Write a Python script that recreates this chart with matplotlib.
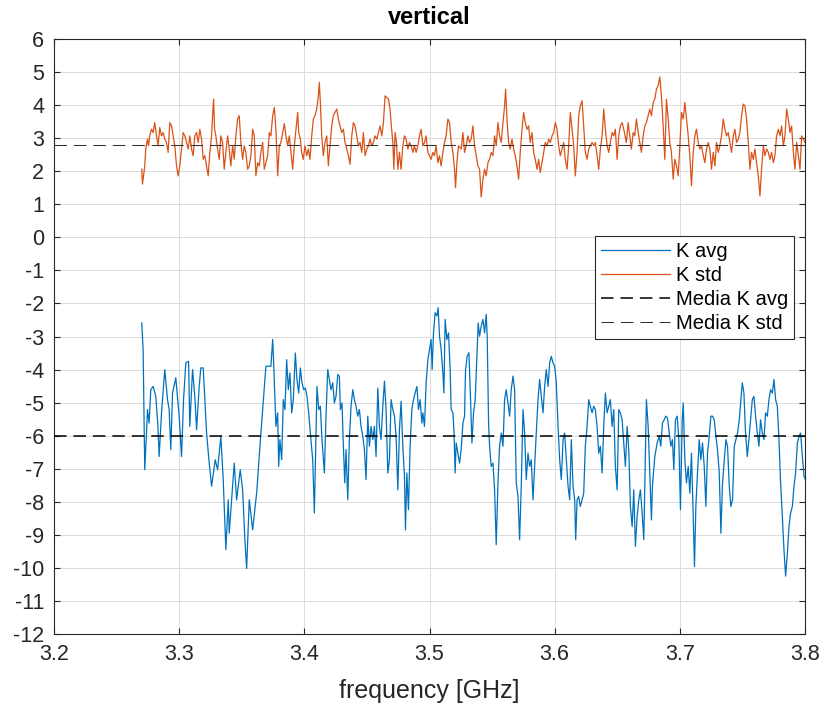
import matplotlib
matplotlib.use("Agg")
import matplotlib.pyplot as plt
import numpy as np

plt.rcParams['font.family'] = ['Liberation Sans', 'DejaVu Sans']
plt.rcParams['lines.scale_dashes'] = False

# ---- K avg (blue) ----
k_avg_freq = [
    3.2701, 3.2712, 3.2717, 3.2720, 3.2725, 3.2739, 3.2747, 3.2760, 3.2773, 3.2792,
    3.2813, 3.2829, 3.2840, 3.2859, 3.2885, 3.2907, 3.2920, 3.2933, 3.2947, 3.2973,
    3.3000, 3.3019, 3.3035, 3.3053, 3.3075, 3.3085, 3.3107, 3.3125, 3.3139, 3.3160,
    3.3173, 3.3192, 3.3219, 3.3240, 3.3259, 3.3288, 3.3307, 3.3333, 3.3352, 3.3373,
    3.3392, 3.3400, 3.3440, 3.3459, 3.3488, 3.3507, 3.3525, 3.3539, 3.3560, 3.3587,
    3.3619, 3.3653, 3.3693, 3.3733, 3.3747, 3.3755, 3.3765, 3.3773, 3.3787, 3.3795,
    3.3805, 3.3819, 3.3832, 3.3845, 3.3859, 3.3872, 3.3885, 3.3899, 3.3912, 3.3928,
    3.3941, 3.3955, 3.3968, 3.3981, 3.3995, 3.4008, 3.4021, 3.4035, 3.4048, 3.4067,
    3.4080, 3.4093, 3.4101, 3.4115, 3.4128, 3.4141, 3.4160, 3.4173, 3.4187, 3.4200,
    3.4213, 3.4227, 3.4240, 3.4253, 3.4267, 3.4280, 3.4288, 3.4301, 3.4312, 3.4323,
    3.4333, 3.4347, 3.4360, 3.4373, 3.4387, 3.4400, 3.4413, 3.4427, 3.4440, 3.4453,
    3.4467, 3.4480, 3.4493, 3.4507, 3.4520, 3.4533, 3.4547, 3.4560, 3.4573, 3.4587,
    3.4600, 3.4613, 3.4627, 3.4640, 3.4653, 3.4667, 3.4680, 3.4693, 3.4707, 3.4720,
    3.4733, 3.4747, 3.4760, 3.4773, 3.4787, 3.4800, 3.4808, 3.4819, 3.4832, 3.4845,
    3.4859, 3.4872, 3.4885, 3.4899, 3.4912, 3.4925, 3.4939, 3.4947, 3.4960, 3.4973,
    3.4987, 3.5000, 3.5013, 3.5021, 3.5032, 3.5045, 3.5059, 3.5069, 3.5080, 3.5093,
    3.5107, 3.5115, 3.5125, 3.5139, 3.5152, 3.5165, 3.5173, 3.5187, 3.5195, 3.5205,
    3.5213, 3.5227, 3.5240, 3.5253, 3.5267, 3.5280, 3.5288, 3.5301, 3.5315, 3.5328,
    3.5339, 3.5352, 3.5365, 3.5379, 3.5389, 3.5400, 3.5413, 3.5427, 3.5440, 3.5453,
    3.5461, 3.5472, 3.5480, 3.5493, 3.5507, 3.5520, 3.5533, 3.5547, 3.5560, 3.5573,
    3.5587, 3.5600, 3.5613, 3.5627, 3.5640, 3.5653, 3.5667, 3.5680, 3.5693, 3.5707,
    3.5720, 3.5733, 3.5747, 3.5760, 3.5773, 3.5787, 3.5800, 3.5813, 3.5827, 3.5840,
    3.5853, 3.5867, 3.5880, 3.5893, 3.5907, 3.5920, 3.5933, 3.5947, 3.5960, 3.5973,
    3.5987, 3.6000, 3.6013, 3.6027, 3.6040, 3.6053, 3.6067, 3.6080, 3.6093, 3.6107,
    3.6120, 3.6133, 3.6147, 3.6160, 3.6168, 3.6179, 3.6192, 3.6205, 3.6219, 3.6232,
    3.6245, 3.6259, 3.6272, 3.6285, 3.6299, 3.6312, 3.6325, 3.6339, 3.6352, 3.6365,
    3.6379, 3.6392, 3.6405, 3.6419, 3.6432, 3.6445, 3.6459, 3.6472, 3.6485, 3.6499,
    3.6512, 3.6525, 3.6539, 3.6552, 3.6565, 3.6579, 3.6592, 3.6605, 3.6619, 3.6632,
    3.6645, 3.6659, 3.6672, 3.6685, 3.6699, 3.6712, 3.6725, 3.6733, 3.6747, 3.6760,
    3.6773, 3.6781, 3.6800, 3.6819, 3.6835, 3.6848, 3.6861, 3.6875, 3.6888, 3.6901,
    3.6915, 3.6928, 3.6941, 3.6952, 3.6965, 3.6979, 3.6992, 3.7005, 3.7019, 3.7027,
    3.7040, 3.7053, 3.7067, 3.7080, 3.7093, 3.7107, 3.7117, 3.7128, 3.7141, 3.7155,
    3.7168, 3.7181, 3.7195, 3.7208, 3.7221, 3.7235, 3.7248, 3.7261, 3.7275, 3.7288,
    3.7301, 3.7315, 3.7328, 3.7341, 3.7355, 3.7368, 3.7381, 3.7395, 3.7408, 3.7421,
    3.7435, 3.7448, 3.7461, 3.7475, 3.7488, 3.7499, 3.7512, 3.7525, 3.7539, 3.7552,
    3.7565, 3.7579, 3.7592, 3.7605, 3.7619, 3.7632, 3.7645, 3.7659, 3.7672, 3.7685,
    3.7699, 3.7712, 3.7725, 3.7739, 3.7752, 3.7765, 3.7779, 3.7792, 3.7805, 3.7819,
    3.7832, 3.7845, 3.7859, 3.7872, 3.7885, 3.7899, 3.7912, 3.7925, 3.7939, 3.7952,
    3.7965, 3.7979, 3.7992, 3.8000,
]
k_avg = [
    -2.59, -3.39, -4.81, -5.41, -7.03, -5.92, -5.21, -5.62, -4.61, -4.51,
    -4.81, -5.62, -6.63, -5.31, -4.00, -4.91, -5.21, -6.42, -4.71, -4.25,
    -5.41, -6.63, -4.91, -3.80, -3.75, -5.72, -4.00, -4.81, -5.82, -4.51,
    -3.95, -3.95, -5.92, -6.83, -7.53, -6.73, -7.03, -6.02, -7.33, -9.45,
    -7.94, -8.95, -6.83, -7.94, -7.03, -7.64, -9.15, -10.02, -7.94, -8.85,
    -7.74, -5.92, -3.90, -3.90, -3.09, -3.80, -4.91, -5.72, -5.31, -6.93,
    -6.12, -6.73, -4.91, -5.21, -3.70, -4.61, -4.10, -5.31, -4.91, -3.50,
    -4.30, -4.71, -3.95, -4.40, -4.61, -4.56, -4.81, -5.31, -5.92, -6.73,
    -8.34, -5.92, -4.51, -5.21, -5.11, -6.12, -7.13, -5.41, -4.00, -4.30,
    -4.61, -4.40, -5.01, -4.81, -4.15, -4.20, -5.21, -5.01, -6.32, -7.43,
    -6.42, -7.94, -6.12, -5.11, -4.61, -4.91, -5.11, -5.41, -5.21, -5.72,
    -6.02, -6.42, -7.33, -5.41, -6.32, -5.72, -6.12, -5.72, -6.63, -4.56,
    -5.72, -6.12, -5.11, -4.35, -5.21, -7.13, -6.73, -4.91, -5.21, -5.41,
    -6.02, -7.64, -5.82, -4.96, -6.32, -7.23, -8.85, -7.13, -8.24, -6.32,
    -5.21, -4.91, -4.71, -4.51, -5.21, -4.91, -5.62, -5.31, -5.72, -4.40,
    -3.70, -3.39, -3.09, -4.00, -2.89, -2.28, -2.38, -2.13, -2.99, -3.39,
    -4.10, -4.71, -2.48, -3.09, -2.89, -4.00, -5.21, -5.31, -5.82, -7.13,
    -6.22, -6.53, -6.83, -6.42, -5.62, -5.41, -4.00, -3.60, -3.49, -4.91,
    -6.22, -5.31, -4.91, -3.60, -2.59, -2.99, -2.69, -2.48, -2.89, -2.33,
    -2.99, -5.62, -6.32, -6.93, -6.83, -7.64, -9.30, -7.43, -6.32, -5.92,
    -6.32, -4.91, -4.61, -5.01, -5.41, -4.61, -4.20, -4.61, -7.43, -7.84,
    -9.15, -7.53, -5.21, -5.92, -7.33, -6.53, -6.93, -6.73, -7.94, -6.93,
    -5.92, -4.91, -4.30, -4.81, -5.31, -4.51, -4.00, -4.51, -3.80, -3.60,
    -3.80, -3.90, -4.40, -5.72, -6.73, -7.33, -6.12, -5.92, -6.73, -7.53,
    -7.94, -6.12, -7.53, -7.94, -9.15, -7.94, -7.84, -8.14, -7.94, -7.74,
    -6.32, -5.72, -4.91, -5.11, -5.31, -5.11, -5.21, -5.72, -6.53, -6.32,
    -7.13, -5.72, -4.71, -5.31, -5.11, -4.91, -5.72, -5.21, -6.93, -7.64,
    -5.21, -5.31, -5.52, -6.22, -6.93, -5.72, -6.42, -8.14, -8.75, -7.64,
    -9.35, -8.44, -7.94, -7.64, -8.34, -9.15, -6.42, -4.91, -5.72, -7.13,
    -8.55, -7.53, -6.63, -6.22, -6.02, -6.32, -5.62, -5.52, -5.41, -5.46,
    -5.92, -6.32, -6.12, -7.03, -5.52, -5.41, -6.12, -8.24, -5.52, -5.01,
    -6.73, -7.43, -6.93, -7.74, -6.53, -8.44, -9.96, -8.14, -7.13, -6.12,
    -6.73, -6.22, -6.93, -8.14, -6.53, -6.02, -5.41, -5.41, -5.52, -6.02,
    -6.42, -7.13, -8.95, -7.43, -6.73, -6.12, -6.32, -7.53, -8.14, -7.94,
    -6.32, -6.12, -5.92, -5.52, -4.91, -4.40, -4.71, -5.92, -6.63, -6.12,
    -5.52, -4.91, -4.81, -5.41, -5.92, -6.32, -5.52, -5.92, -6.12, -5.31,
    -5.41, -4.91, -4.61, -4.71, -4.30, -4.91, -5.11, -6.12, -7.43, -8.44,
    -9.45, -10.25, -9.56, -8.75, -8.34, -8.14, -7.53, -7.13, -6.22, -6.02,
    -5.92, -6.63, -7.23, -7.30,
]

# ---- K std (orange) ----
k_std_freq = [
    3.2701, 3.2707, 3.2715, 3.2725, 3.2733, 3.2747, 3.2755, 3.2765, 3.2779, 3.2792,
    3.2805, 3.2819, 3.2832, 3.2845, 3.2859, 3.2872, 3.2885, 3.2899, 3.2912, 3.2925,
    3.2939, 3.2952, 3.2965, 3.2979, 3.2992, 3.3005, 3.3019, 3.3032, 3.3045, 3.3059,
    3.3072, 3.3085, 3.3099, 3.3112, 3.3125, 3.3139, 3.3152, 3.3165, 3.3179, 3.3192,
    3.3205, 3.3219, 3.3232, 3.3245, 3.3259, 3.3267, 3.3275, 3.3283, 3.3293, 3.3307,
    3.3320, 3.3333, 3.3347, 3.3360, 3.3373, 3.3387, 3.3400, 3.3413, 3.3427, 3.3440,
    3.3453, 3.3467, 3.3480, 3.3493, 3.3507, 3.3520, 3.3533, 3.3547, 3.3560, 3.3573,
    3.3587, 3.3600, 3.3613, 3.3627, 3.3640, 3.3653, 3.3667, 3.3680, 3.3693, 3.3707,
    3.3720, 3.3733, 3.3747, 3.3760, 3.3773, 3.3787, 3.3800, 3.3813, 3.3827, 3.3840,
    3.3853, 3.3867, 3.3880, 3.3893, 3.3907, 3.3920, 3.3933, 3.3947, 3.3955, 3.3968,
    3.3979, 3.3992, 3.4005, 3.4019, 3.4032, 3.4045, 3.4059, 3.4072, 3.4085, 3.4099,
    3.4112, 3.4120, 3.4128, 3.4139, 3.4152, 3.4165, 3.4179, 3.4192, 3.4205, 3.4219,
    3.4232, 3.4245, 3.4259, 3.4272, 3.4285, 3.4299, 3.4312, 3.4325, 3.4339, 3.4352,
    3.4365, 3.4379, 3.4392, 3.4405, 3.4419, 3.4432, 3.4445, 3.4459, 3.4472, 3.4485,
    3.4499, 3.4512, 3.4525, 3.4539, 3.4552, 3.4565, 3.4579, 3.4592, 3.4605, 3.4619,
    3.4632, 3.4645, 3.4659, 3.4672, 3.4685, 3.4693, 3.4707, 3.4715, 3.4725, 3.4736,
    3.4747, 3.4760, 3.4773, 3.4787, 3.4800, 3.4813, 3.4827, 3.4840, 3.4853, 3.4867,
    3.4880, 3.4893, 3.4907, 3.4920, 3.4933, 3.4947, 3.4960, 3.4973, 3.4987, 3.5000,
    3.5013, 3.5027, 3.5040, 3.5053, 3.5067, 3.5080, 3.5093, 3.5107, 3.5120, 3.5133,
    3.5147, 3.5160, 3.5173, 3.5187, 3.5200, 3.5208, 3.5219, 3.5232, 3.5253, 3.5267,
    3.5280, 3.5293, 3.5307, 3.5320, 3.5333, 3.5347, 3.5360, 3.5373, 3.5387, 3.5400,
    3.5413, 3.5427, 3.5440, 3.5453, 3.5467, 3.5480, 3.5493, 3.5507, 3.5520, 3.5533,
    3.5547, 3.5560, 3.5573, 3.5587, 3.5600, 3.5608, 3.5619, 3.5632, 3.5645, 3.5659,
    3.5672, 3.5685, 3.5699, 3.5712, 3.5725, 3.5739, 3.5752, 3.5765, 3.5779, 3.5792,
    3.5805, 3.5819, 3.5832, 3.5845, 3.5859, 3.5872, 3.5885, 3.5899, 3.5912, 3.5925,
    3.5939, 3.5952, 3.5965, 3.5979, 3.5992, 3.6005, 3.6019, 3.6032, 3.6045, 3.6059,
    3.6072, 3.6085, 3.6099, 3.6112, 3.6125, 3.6139, 3.6152, 3.6165, 3.6179, 3.6192,
    3.6205, 3.6219, 3.6232, 3.6245, 3.6259, 3.6272, 3.6285, 3.6299, 3.6312, 3.6325,
    3.6339, 3.6352, 3.6365, 3.6379, 3.6392, 3.6405, 3.6419, 3.6432, 3.6445, 3.6459,
    3.6472, 3.6485, 3.6499, 3.6512, 3.6525, 3.6539, 3.6552, 3.6573, 3.6587, 3.6600,
    3.6613, 3.6627, 3.6640, 3.6653, 3.6667, 3.6680, 3.6693, 3.6707, 3.6720, 3.6733,
    3.6747, 3.6760, 3.6773, 3.6787, 3.6800, 3.6813, 3.6827, 3.6840, 3.6853, 3.6867,
    3.6880, 3.6893, 3.6907, 3.6920, 3.6933, 3.6947, 3.6960, 3.6973, 3.6987, 3.7000,
    3.7013, 3.7027, 3.7040, 3.7053, 3.7067, 3.7080, 3.7093, 3.7107, 3.7120, 3.7133,
    3.7147, 3.7160, 3.7173, 3.7187, 3.7200, 3.7213, 3.7227, 3.7240, 3.7253, 3.7267,
    3.7280, 3.7293, 3.7307, 3.7320, 3.7333, 3.7347, 3.7360, 3.7373, 3.7387, 3.7400,
    3.7413, 3.7427, 3.7440, 3.7453, 3.7467, 3.7480, 3.7493, 3.7507, 3.7520, 3.7533,
    3.7547, 3.7560, 3.7573, 3.7587, 3.7600, 3.7613, 3.7627, 3.7640, 3.7653, 3.7667,
    3.7680, 3.7693, 3.7707, 3.7720, 3.7733, 3.7747, 3.7760, 3.7773, 3.7787, 3.7800,
    3.7813, 3.7827, 3.7840, 3.7853, 3.7867, 3.7880, 3.7893, 3.7907, 3.7920, 3.7933,
    3.7947, 3.7960, 3.7973, 3.7987, 3.8000,
]
k_std = [
    2.06, 1.61, 1.86, 2.16, 2.67, 2.97, 2.77, 3.07, 3.27, 3.17,
    3.47, 3.07, 2.77, 3.32, 3.07, 3.17, 2.97, 2.87, 2.57, 3.47,
    3.37, 3.07, 2.77, 2.16, 1.86, 2.16, 2.67, 3.17, 3.07, 2.87,
    2.67, 3.07, 2.67, 2.47, 3.07, 3.17, 2.87, 3.27, 2.97, 2.36,
    2.47, 2.16, 1.86, 2.57, 3.07, 3.68, 4.18, 3.27, 3.07, 2.67,
    2.36, 3.07, 2.87, 2.06, 2.57, 3.07, 2.67, 2.16, 2.77, 2.36,
    3.07, 3.58, 3.68, 2.87, 2.36, 2.77, 2.57, 2.06, 2.16, 2.47,
    3.27, 3.07, 1.86, 2.26, 2.16, 2.57, 2.87, 2.06, 2.26, 2.47,
    3.17, 3.07, 3.68, 3.93, 3.27, 1.86, 2.77, 2.87, 3.17, 3.44,
    3.07, 2.77, 3.07, 2.57, 2.06, 2.77, 3.27, 3.78, 3.17, 2.97,
    2.57, 2.36, 2.77, 2.47, 2.67, 2.36, 3.07, 3.58, 3.68, 3.88,
    4.28, 4.69, 4.08, 3.07, 2.47, 2.87, 3.07, 2.16, 2.77, 3.37,
    3.68, 3.78, 3.88, 3.58, 3.37, 3.17, 3.27, 2.87, 2.67, 2.47,
    2.21, 3.07, 3.47, 3.37, 3.07, 2.77, 2.87, 2.57, 3.17, 2.47,
    2.67, 2.77, 2.97, 2.77, 2.87, 3.07, 2.97, 3.17, 3.37, 3.07,
    3.47, 4.28, 4.23, 4.18, 3.88, 3.47, 2.87, 2.06, 3.17, 2.87,
    2.06, 2.57, 2.06, 2.77, 3.07, 2.97, 2.67, 2.87, 2.77, 2.57,
    2.77, 2.57, 2.77, 3.07, 3.27, 2.77, 2.87, 3.07, 2.57, 2.47,
    2.36, 2.57, 2.47, 2.77, 2.26, 2.47, 2.16, 2.57, 2.87, 3.07,
    3.58, 3.47, 2.87, 2.57, 2.06, 1.50, 2.26, 2.77, 2.67, 3.17,
    2.57, 2.77, 3.07, 2.87, 2.97, 3.37, 2.77, 2.47, 2.16, 2.06,
    1.22, 1.76, 2.06, 1.86, 2.26, 2.36, 2.57, 2.47, 3.07, 2.77,
    3.47, 3.07, 2.87, 3.47, 3.98, 4.48, 3.58, 2.87, 2.67, 2.97,
    2.67, 2.47, 2.16, 1.76, 2.57, 3.27, 3.78, 3.47, 3.27, 3.37,
    2.87, 3.17, 2.57, 2.36, 2.06, 2.36, 1.96, 2.26, 2.57, 2.87,
    2.77, 2.97, 2.87, 3.07, 3.17, 3.47, 3.27, 2.77, 2.47, 2.67,
    2.87, 2.36, 2.06, 2.77, 3.78, 3.27, 2.77, 1.86, 2.57, 3.68,
    3.98, 4.13, 3.37, 2.57, 2.36, 2.67, 2.77, 2.87, 2.77, 2.87,
    2.47, 2.06, 2.67, 3.07, 3.88, 3.27, 2.77, 2.57, 2.87, 3.17,
    3.07, 3.27, 2.36, 3.07, 3.37, 3.47, 3.27, 2.87, 3.47, 3.07,
    2.67, 3.17, 3.07, 3.58, 3.17, 2.87, 2.57, 3.07, 3.37, 3.47,
    3.68, 3.88, 3.68, 4.08, 4.18, 4.48, 4.59, 4.85, 4.28, 3.37,
    2.36, 4.18, 3.58, 2.87, 2.57, 1.76, 2.36, 2.16, 1.86, 2.77,
    3.78, 3.58, 4.08, 3.58, 3.07, 2.47, 1.56, 2.57, 3.07, 3.27,
    2.87, 2.67, 2.77, 2.47, 2.26, 2.67, 2.87, 2.67, 2.06, 2.57,
    2.16, 2.87, 2.57, 2.77, 3.07, 3.58, 3.27, 3.07, 3.17, 2.87,
    2.57, 3.07, 3.27, 2.87, 2.97, 3.17, 3.68, 4.03, 3.98, 3.58,
    2.87, 2.06, 2.57, 2.36, 2.67, 2.26, 1.86, 1.25, 2.06, 2.77,
    2.47, 2.67, 2.57, 2.36, 2.57, 2.26, 2.47, 3.07, 3.27, 3.07,
    3.37, 2.77, 3.07, 3.88, 3.58, 3.17, 3.37, 2.57, 2.06, 2.87,
    2.47, 2.06, 3.07, 2.97, 2.87,
]

k_avg_mean = -6.0
k_std_mean = 2.8

blue = '#0072BD'
orange = '#D95319'
ink = '#262626'

fig = plt.figure(figsize=(8.27, 7.11), dpi=100)
ax = fig.add_axes([54 / 827, 1 - 634 / 711, (805 - 54) / 827, (634 - 39) / 711])

ax.plot(k_avg_freq, k_avg, color=blue, lw=0.9, label='K avg', zorder=3)
ax.plot(k_std_freq, k_std, color=orange, lw=0.9, label='K std', zorder=3)
l1 = ax.axhline(k_avg_mean, color='black', lw=1.1, label='Media K avg', zorder=4)
l1.set_dashes((9, 5))
l2 = ax.axhline(k_std_mean, color='#333333', lw=0.75, label='Media K std', zorder=4)
l2.set_dashes((9, 5))

ax.set_xlim(3.2, 3.8)
ax.set_ylim(-12, 6)
ax.set_xticks(np.arange(3.2, 3.81, 0.1))
ax.set_xticklabels(['3.2', '3.3', '3.4', '3.5', '3.6', '3.7', '3.8'])
ax.set_yticks(np.arange(-12, 7, 1))
ax.set_yticklabels([str(v) for v in range(-12, 7)])

ax.grid(True, color='#dcdcdc', lw=0.7)
ax.set_axisbelow(True)
for s in ax.spines.values():
    s.set_color(ink)
    s.set_linewidth(0.8)
ax.tick_params(direction='in', length=4, width=0.8, colors=ink, labelsize=15.5,
               top=True, right=True, pad=7)

ax.set_xlabel('frequency [GHz]', fontsize=18, color=ink, labelpad=10)
ax.set_title('vertical', fontsize=17, fontweight='bold', color='black', pad=11)

leg = ax.legend(loc='upper left', bbox_to_anchor=(595 / 827, 1 - 236 / 711),
                bbox_transform=fig.transFigure, fontsize=14.5, frameon=True,
                fancybox=False, edgecolor=ink, framealpha=1, handlelength=3.4,
                labelspacing=0.25, borderpad=0.3, handletextpad=0.3,
                borderaxespad=0)
leg.get_frame().set_linewidth(0.8)

fig.savefig('out.png', dpi=100, facecolor='white')
